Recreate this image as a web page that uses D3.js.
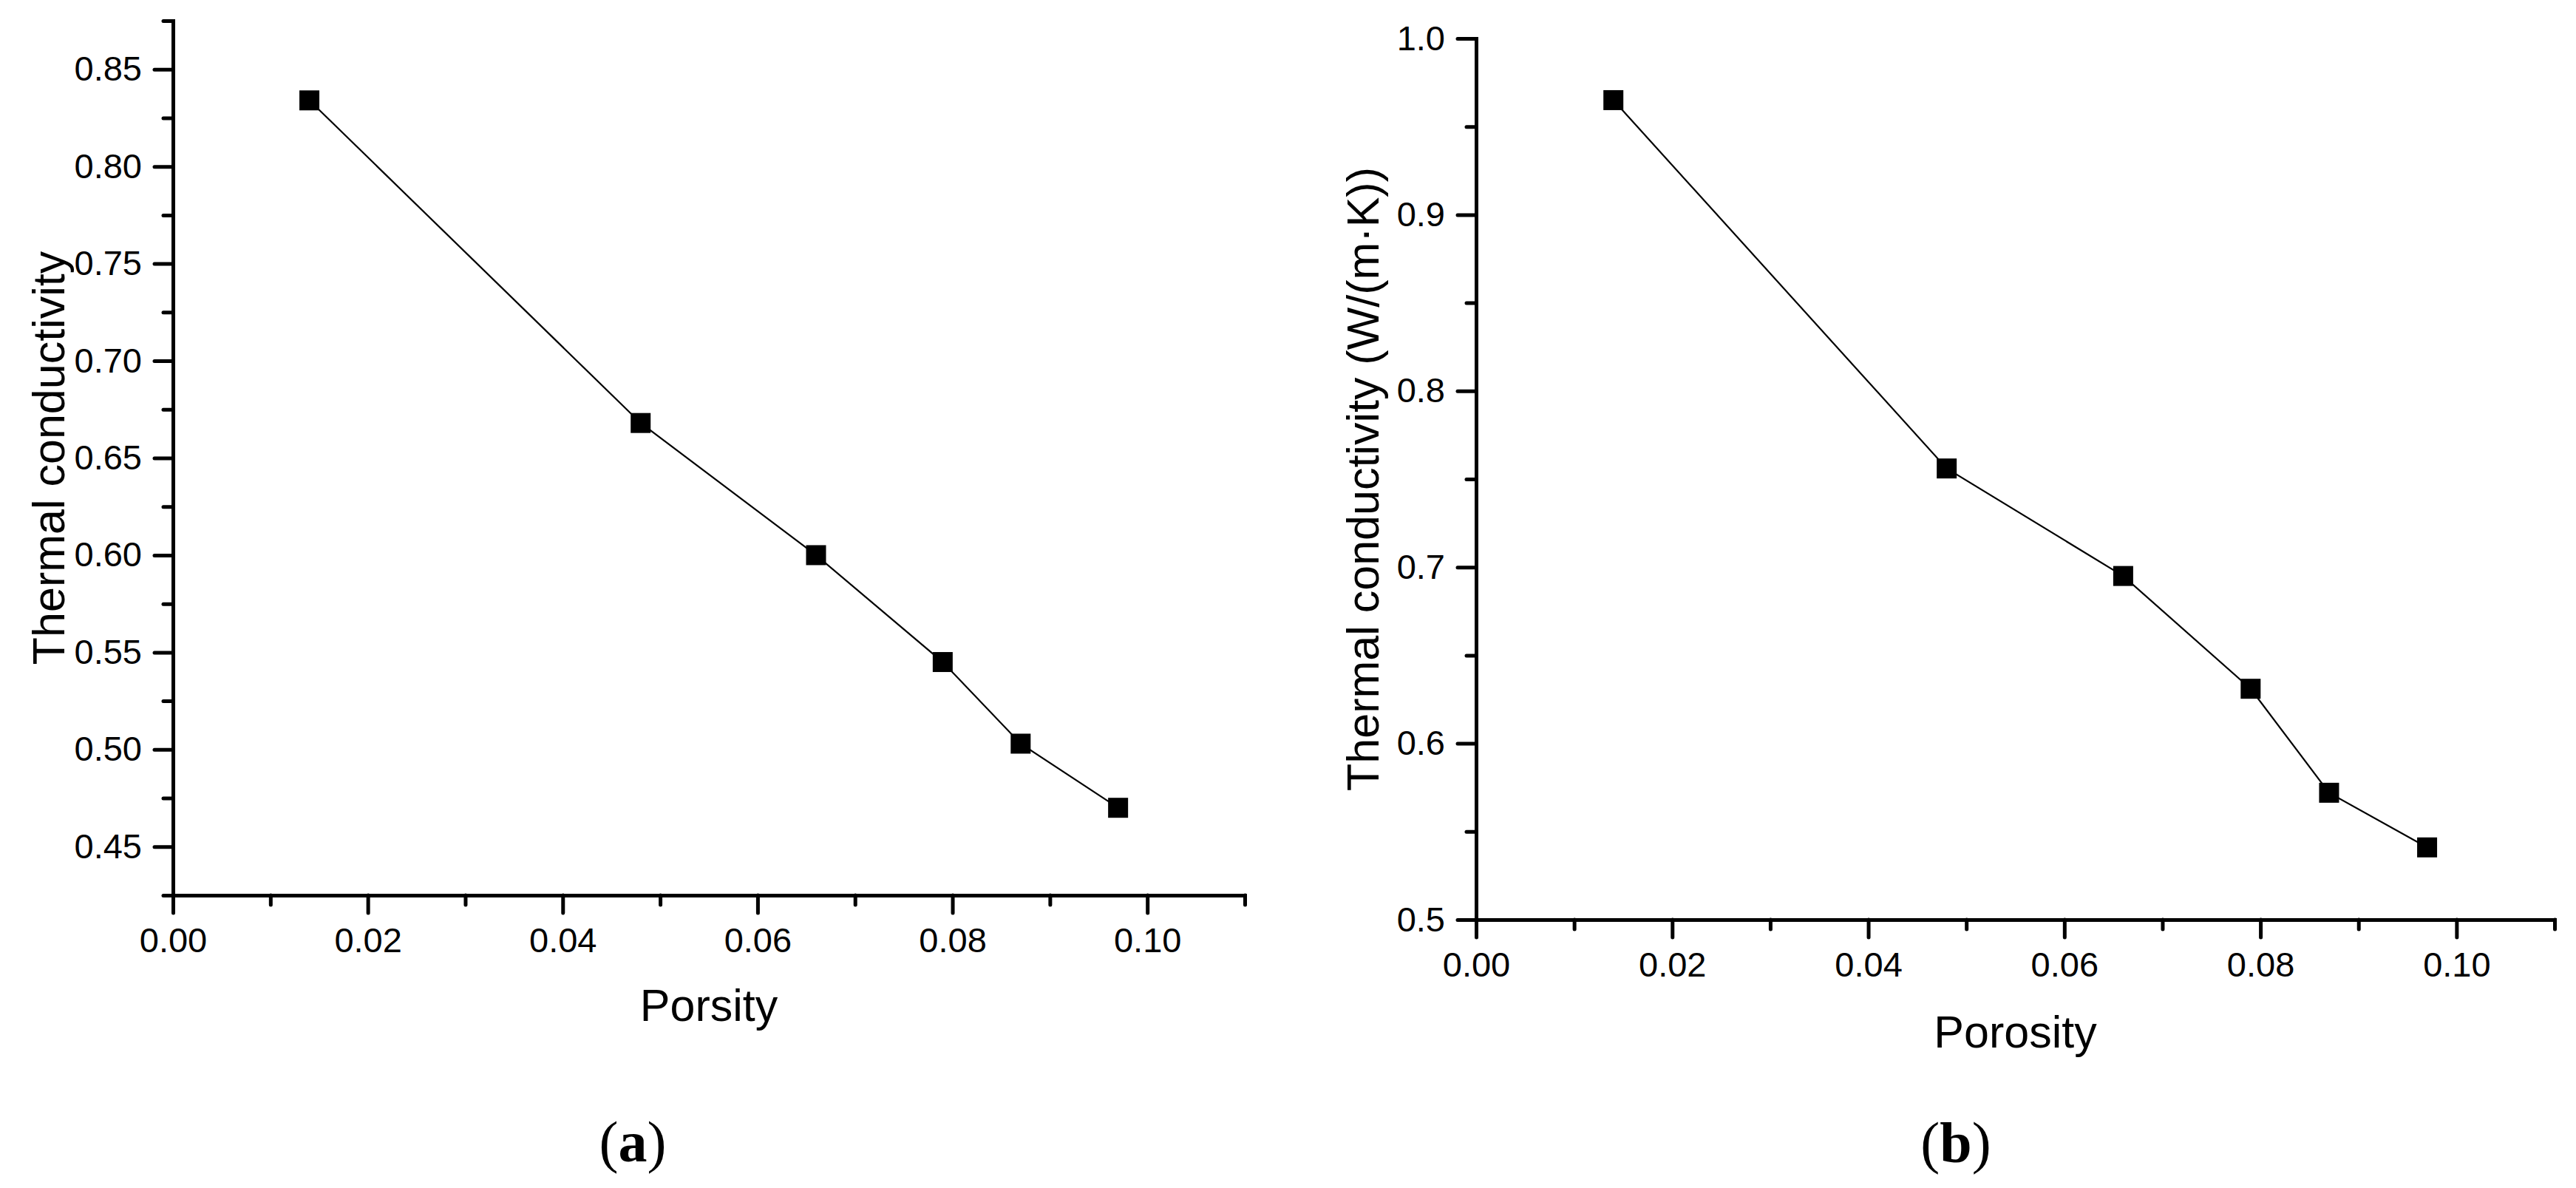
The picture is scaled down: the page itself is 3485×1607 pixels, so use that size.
<!DOCTYPE html>
<html>
<head>
<meta charset="utf-8">
<script src="https://cdn.jsdelivr.net/npm/d3@7"></script>
<style>
html,body{margin:0;padding:0;background:#fff;}
svg{display:block;}
.tick text{font-family:"Liberation Sans",Arial,sans-serif;}
</style>
</head>
<body>
<script>
// ---- data ----
const porosity = [0.014, 0.048, 0.066, 0.079, 0.087, 0.097];
const conductivityA = [0.834, 0.668, 0.600, 0.545, 0.503, 0.470];
const conductivityB = [0.965, 0.756, 0.695, 0.631, 0.572, 0.541];
const xTicks = [0, 0.02, 0.04, 0.06, 0.08, 0.10];
const xMinorTicks = [0.01, 0.03, 0.05, 0.07, 0.09, 0.11];
const yTicksA = [0.45, 0.50, 0.55, 0.60, 0.65, 0.70, 0.75, 0.80, 0.85];
const yMinorA = [0.425, 0.475, 0.525, 0.575, 0.625, 0.675, 0.725, 0.775, 0.825, 0.875];
const yTicksB = [0.5, 0.6, 0.7, 0.8, 0.9, 1.0];
const yMinorB = [0.55, 0.65, 0.75, 0.85, 0.95];
const xTitleA = "Porsity";
const xTitleB = "Porosity";
const yTitleA = "Thermal conductivity";
const yTitleB = "Thermal conductivity (W/(m\u00B7K))";
const captions = ["(a)", "(b)"];

const W = 3485, H = 1607;
const svg = d3.select("body").append("svg").attr("width", W).attr("height", H);
svg.append("rect").attr("width", W).attr("height", H).attr("fill", "#fff");

const FONT = "'Liberation Sans', Arial, sans-serif";
const tickFont = 47, titleFont = 61;

function panel(cfg) {
  const x = d3.scaleLinear().domain([0, 0.11]).range(cfg.xr);
  const y = d3.scaleLinear().domain(cfg.yd).range(cfg.yr);
  const g = svg.append("g");
  const y0 = cfg.yr[0], x0 = cfg.xr[0];

  // minor ticks
  g.append("g").attr("transform", `translate(0,${y0})`)
    .call(d3.axisBottom(x).tickValues(xMinorTicks).tickSize(13).tickSizeOuter(0).tickFormat(""))
    .call(s => s.select(".domain").remove());
  g.append("g").attr("transform", `translate(${x0},0)`)
    .call(d3.axisLeft(y).tickValues(cfg.yMinor).tickSize(13).tickSizeOuter(0).tickFormat(""))
    .call(s => s.select(".domain").remove());

  // major axes
  g.append("g").attr("transform", `translate(0,${y0})`)
    .call(d3.axisBottom(x).tickValues(xTicks).tickSize(24).tickPadding(20).tickSizeOuter(0).tickFormat(d3.format(".2f")));
  g.append("g").attr("transform", `translate(${x0},0)`)
    .call(d3.axisLeft(y).tickValues(cfg.yTicks).tickSize(25).tickPadding(17).tickSizeOuter(0).tickFormat(d3.format(cfg.yfmt)));

  g.selectAll(".domain").attr("stroke", "#000").attr("stroke-width", 5).attr("stroke-linecap", "square");
  g.selectAll(".tick line").attr("stroke", "#000").attr("stroke-width", 5).attr("stroke-linecap", "round");
  g.selectAll(".tick text").attr("font-size", tickFont).attr("font-family", FONT).attr("fill", "#000");

  // line
  const pts = porosity.map((p, i) => [p, cfg.values[i]]);
  g.append("path").datum(pts)
    .attr("fill", "none").attr("stroke", "#000").attr("stroke-width", 2.2)
    .attr("d", d3.line().x(d => x(d[0])).y(d => y(d[1])));
  const ms = 27;
  g.selectAll("rect.pt").data(pts).enter().append("rect")
    .attr("x", d => x(d[0]) - ms / 2).attr("y", d => y(d[1]) - ms / 2)
    .attr("width", ms).attr("height", ms).attr("fill", "#000");

  // titles
  g.append("text").attr("x", (cfg.xr[0] + cfg.xr[1]) / 2).attr("y", cfg.xTitleY)
    .attr("dy", "0.35em").attr("text-anchor", "middle")
    .attr("font-family", FONT).attr("font-size", titleFont).text(cfg.xTitle);
  g.append("text")
    .attr("transform", `translate(${cfg.yTitleX},${(cfg.yr[0] + cfg.yr[1]) / 2}) rotate(-90)`)
    .attr("dy", "0.35em").attr("text-anchor", "middle")
    .attr("font-family", FONT).attr("font-size", titleFont).text(cfg.yTitle);

  // caption
  g.append("text").attr("x", cfg.capX).attr("y", cfg.capY).attr("text-anchor", "middle")
    .attr("font-family", "'Liberation Serif','Times New Roman',serif").attr("font-size", 78)
    .selectAll("tspan").data([["(", "normal"], [cfg.caption.slice(1, 2), "bold"], [")", "normal"]])
    .enter().append("tspan").attr("font-weight", d => d[1]).text(d => d[0]);
}

panel({xr: [234, 1684], yr: [1211, 28], yd: [0.425, 0.875], yTicks: yTicksA, yMinor: yMinorA,
  yfmt: ".2f", values: conductivityA, xTitle: xTitleA, yTitle: yTitleA, xTitleY: 1360, yTitleX: 66,
  caption: captions[0], capX: 856, capY: 1571});
panel({xr: [1997, 3456], yr: [1244, 52], yd: [0.5, 1.0], yTicks: yTicksB, yMinor: yMinorB,
  yfmt: ".1f", values: conductivityB, xTitle: xTitleB, yTitle: yTitleB, xTitleY: 1396, yTitleX: 1844,
  caption: captions[1], capX: 2646, capY: 1572});
</script>
</body>
</html>
